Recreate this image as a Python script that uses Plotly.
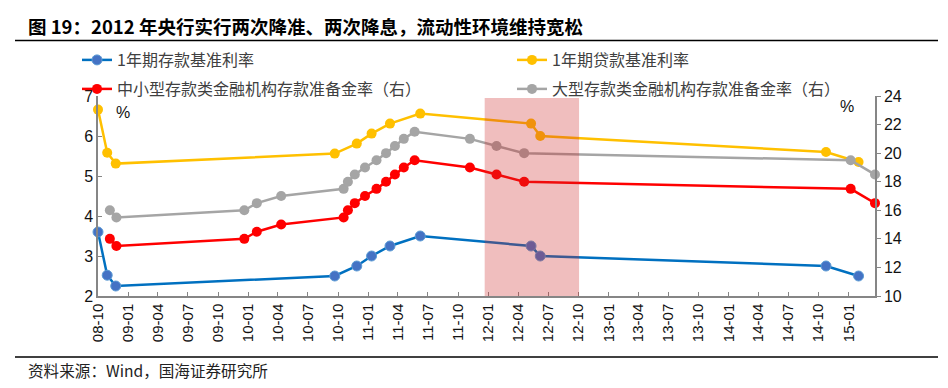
import plotly.graph_objects as go

# ---------------- data ----------------
rate_dates = ["2008-10-30", "2008-11-27", "2008-12-23", "2010-10-20", "2010-12-26",
              "2011-02-09", "2011-04-06", "2011-07-07", "2012-06-08", "2012-07-06",
              "2014-11-22", "2015-03-01"]
deposit_rate = [3.60, 2.52, 2.25, 2.50, 2.75, 3.00, 3.25, 3.50, 3.25, 3.00, 2.75, 2.50]
lending_rate = [6.66, 5.58, 5.31, 5.56, 5.81, 6.06, 6.31, 6.56, 6.31, 6.00, 5.60, 5.35]

rrr_dates = ["2008-12-05", "2008-12-25", "2010-01-18", "2010-02-25", "2010-05-10",
             "2010-11-16", "2010-11-29", "2010-12-20", "2011-01-20", "2011-02-24",
             "2011-03-25", "2011-04-21", "2011-05-18", "2011-06-20", "2011-12-05",
             "2012-02-24", "2012-05-18", "2015-02-05", "2015-04-20"]
rrr_small = [14.0, 13.5, 14.0, 14.5, 15.0, 15.5, 16.0, 16.5, 17.0, 17.5,
             18.0, 18.5, 19.0, 19.5, 19.0, 18.5, 18.0, 17.5, 16.5]
rrr_large = [16.0, 15.5, 16.0, 16.5, 17.0, 17.5, 18.0, 18.5, 19.0, 19.5,
             20.0, 20.5, 21.0, 21.5, 21.0, 20.5, 20.0, 19.5, 18.5]

tick_labels = ["08-10", "09-01", "09-04", "09-07", "09-10", "10-01", "10-04", "10-07",
               "10-10", "11-01", "11-04", "11-07", "11-10", "12-01", "12-04", "12-07",
               "12-10", "13-01", "13-04", "13-07", "13-10", "14-01", "14-04", "14-07",
               "14-10", "15-01"]
tick_vals = ["20" + t + "-30" for t in tick_labels]

x_range = ["2008-10-30", "2015-04-20"]
shade_range = ["2012-01-19", "2012-11-01"]

names = ["1年期存款基准利率", "1年期贷款基准利率",
         "中小型存款类金融机构存款准备金率（右）", "大型存款类金融机构存款准备金率（右）"]

title_text = "图 19：2012 年央行实行两次降准、两次降息，流动性环境维持宽松"
source_text = "资料来源：Wind，国海证券研究所"

# ---------------- style ----------------
OFF = 8                      # page body margin of the html page
W, H = 948 - OFF, 388 - OFF  # figure size
# plot area in reference-window pixels
L0, R0, T0, B0 = 98, 875, 96, 296
L, R, T, B = L0 - OFF, R0 - OFF, T0 - OFF, B0 - OFF
CJK = "Noto Sans CJK SC"
NUM = "Liberation Sans, Arial"

def px_x(px):
    return (px - OFF - L) / (R - L)

def px_y(py):
    return (B - (py - OFF)) / (B - T)

fig = go.Figure()

common = dict(mode="lines+markers", cliponaxis=False)
fig.add_trace(go.Scatter(x=rate_dates, y=deposit_rate, name=names[0], yaxis="y",
                         line=dict(color="#0070C0", width=2.5),
                         marker=dict(size=10, color="#4472C4", line=dict(color="#5B9BD5", width=1)),
                         legend="legend", **common))
fig.add_trace(go.Scatter(x=rate_dates, y=lending_rate, name=names[1], yaxis="y",
                         line=dict(color="#FFC000", width=2.5),
                         marker=dict(size=10, color="#FFC000"),
                         legend="legend2", **common))
fig.add_trace(go.Scatter(x=rrr_dates, y=rrr_small, name=names[2], yaxis="y2",
                         line=dict(color="#FF0000", width=2.5),
                         marker=dict(size=10, color="#FF0000"),
                         legend="legend3", **common))
fig.add_trace(go.Scatter(x=rrr_dates, y=rrr_large, name=names[3], yaxis="y2",
                         line=dict(color="#A5A5A5", width=2.5),
                         marker=dict(size=10, color="#A5A5A5"),
                         legend="legend4", **common))

def leg(px, py):
    return dict(x=(px - OFF) / W, y=1 - (py - OFF) / H, xref="container", yref="container",
                xanchor="left", yanchor="middle", bgcolor="rgba(0,0,0,0)",
                borderwidth=0, font=dict(family=CJK, size=16, color="#404040"))

axis_line = "#868686"

fig.update_layout(
    width=W, height=H,
    margin=dict(l=L, r=W - R, t=T, b=H - B, autoexpand=False),
    paper_bgcolor="white", plot_bgcolor="white",
    showlegend=True,
    legend=leg(77, 60), legend2=leg(512, 60),
    legend3=leg(77, 89), legend4=leg(512, 89),
    xaxis=dict(type="date", range=x_range, tickvals=tick_vals, ticktext=tick_labels,
               tickangle=-90, ticks="inside", ticklen=4, tickcolor=axis_line,
               showline=True, linecolor=axis_line, linewidth=1.5, showgrid=False,
               zeroline=False, tickfont=dict(family=NUM, size=15, color="#111")),
    yaxis=dict(range=[2, 7], dtick=1, ticks="inside", ticklen=4, tickcolor=axis_line,
               showline=True, linecolor=axis_line, linewidth=1.5, showgrid=False,
               zeroline=False, tickfont=dict(family=NUM, size=16, color="#111")),
    yaxis2=dict(range=[10, 24], dtick=2, overlaying="y", side="right", ticks="outside",
                ticklen=4, tickcolor=axis_line, showline=True, linecolor=axis_line,
                linewidth=1.5, showgrid=False, zeroline=False,
                tickfont=dict(family=NUM, size=16, color="#111")),
)

# shaded period (drawn above the lines, semi-transparent)
fig.add_shape(type="rect", xref="x", yref="paper", x0=shade_range[0], x1=shade_range[1],
              y0=0, y1=px_y(98), layer="above", line=dict(width=0),
              fillcolor="rgba(205,40,40,0.30)")

# title and separator lines
fig.add_shape(type="line", xref="paper", yref="paper", x0=px_x(15), x1=px_x(938),
              y0=px_y(40.5), y1=px_y(40.5), line=dict(color="black", width=1.5))
fig.add_shape(type="line", xref="paper", yref="paper", x0=px_x(15), x1=px_x(938),
              y0=px_y(357), y1=px_y(357), line=dict(color="black", width=1.5))

fig.add_annotation(text="<b>" + title_text + "</b>", xref="paper", yref="paper",
                   x=px_x(26), y=px_y(26), xanchor="left", yanchor="middle",
                   showarrow=False, font=dict(family=CJK, size=18.5, color="black"))
fig.add_annotation(text=source_text, xref="paper", yref="paper",
                   x=px_x(26), y=px_y(370), xanchor="left", yanchor="middle",
                   showarrow=False, font=dict(family=CJK, size=15.6, color="#222"))
fig.add_annotation(text="%", xref="paper", yref="paper", x=px_x(123), y=px_y(112),
                   xanchor="center", yanchor="middle", showarrow=False,
                   font=dict(family=NUM, size=16, color="#111"))
fig.add_annotation(text="%", xref="paper", yref="paper", x=px_x(847), y=px_y(106),
                   xanchor="center", yanchor="middle", showarrow=False,
                   font=dict(family=NUM, size=16, color="#111"))

fig.write_html("out.html")
